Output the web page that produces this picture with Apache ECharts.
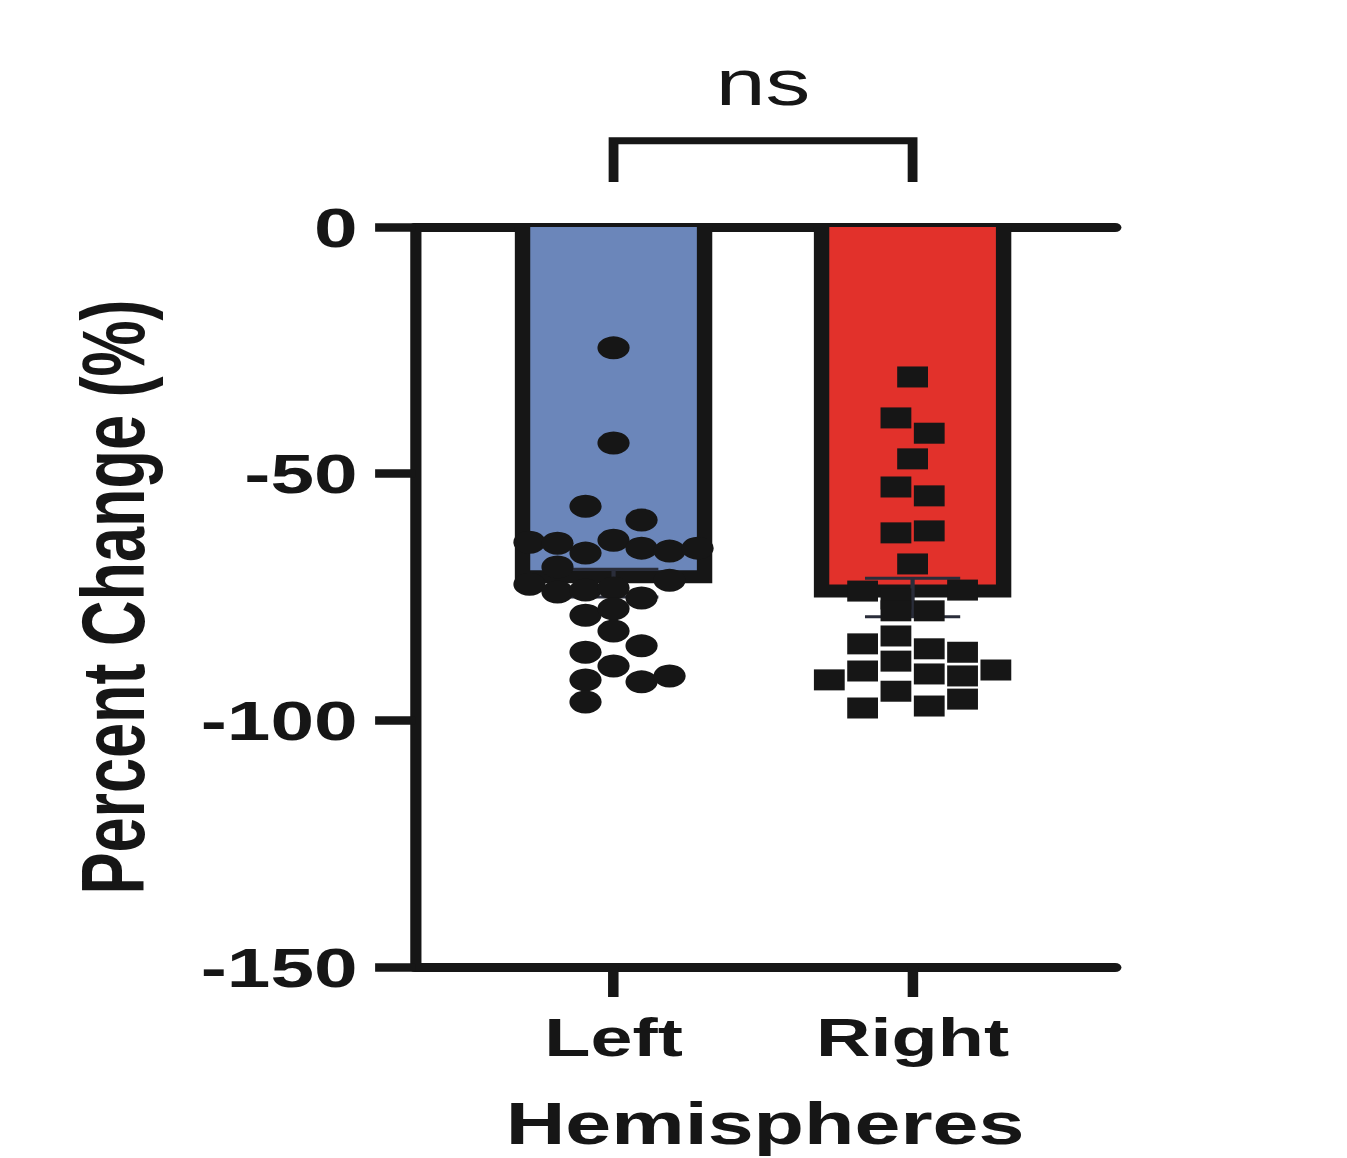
<!DOCTYPE html>
<html>
<head>
<meta charset="utf-8">
<script src="https://cdn.jsdelivr.net/npm/echarts@6/dist/echarts.min.js"></script>
<style>
html,body{margin:0;padding:0;background:#ffffff;overflow:hidden;width:1347px;height:1158px;}
#wrap{width:1347px;height:1158px;overflow:hidden;position:relative;}
#chart{width:962px;height:1158px;transform:scaleX(1.40021);transform-origin:0 0;}
</style>
</head>
<body>
<div id="wrap"><div id="chart"></div></div>
<script>
// ---------------- data ----------------
const categories = ['Left', 'Right'];
const groupMeans = [-72.2, -75.1];
const groupSEM = [2.8, 3.9];
const yTickValues = [0, -50, -100, -150];
const yTickLabels = ['0', '-50', '-100', '-150'];
const xTitle = 'Hemispheres';
const yTitle = 'Percent Change (%)';
const significanceLabel = 'ns';

const leftValues = [-24.5, -43.8, -56.6, -59.4, -63.9, -64.1, -63.5, -66.1, -65.1, -65.7,
  -65.1, -68.9, -72.4, -74.0, -73.6, -73.2, -75.2, -71.6, -78.7, -77.4,
  -81.9, -84.9, -86.2, -89.0, -91.8, -92.2, -91.0, -96.3];
const rightValues = [-30.4, -38.7, -41.8, -47.0, -52.7, -54.5, -62.0, -61.6, -68.3, -73.8,
  -73.6, -75.4, -77.8, -77.8, -84.5, -82.9, -88.0, -85.5, -90.6, -86.2,
  -91.0, -95.7, -89.8, -91.8, -90.0, -97.5, -94.1, -97.1];

// ---------------- layout (jitter lanes, sizes, styles) ----------------
const leftLanes = [0, 0, -1, 1, -3, -2, 0, -1, 1, 2, 3, -2, -3, -2, -1, 0, 1, 2, -1, 0, 0, 1, -1, 0, -1, 1, 2, -1];
const rightLanes = [0, -1, 1, 0, -1, 1, -1, 1, 0, -3, 3, -1, -1, 1, -3, -1, -1, 1, 1, 3, 3, 3, 5, -5, -3, -3, -1, 1];
const LANE_STEP_L = 0.0937;
const LANE_STEP_R = 0.0557;

const INK = '#161616';
const BAR_COLORS = ['#6b86ba', '#e2312b'];
const FONT = '"Liberation Sans", Arial, Helvetica, sans-serif';
const BAR_HALF = 70.5;     // px
const BAR_SIDE = 11;       // px, inner border
const BAR_BOTTOM = 13;     // px
const CAP_HALF = [32, 34];
const BRACKET_LOW = 9.1, BRACKET_HIGH = 17.5, LABEL_Y = 29.2;
const X_MIN = 0.3361, X_MAX = 2.6773;

const chart = echarts.init(document.getElementById('chart'), null, {renderer: 'svg'});

const option = {
  animation: false,
  backgroundColor: '#ffffff',
  grid: {left: 296.4, right: 165.6, top: 227, bottom: 191, containLabel: false, outerBoundsMode: 'none'},
  xAxis: [{
    type: 'value', min: X_MIN, max: X_MAX, position: 'bottom',
    axisLine: {show: true, onZero: false, lineStyle: {color: INK, width: 9}},
    axisTick: {show: true, customValues: [1, 2], length: 30, lineStyle: {color: INK, width: 7.5}},
    axisLabel: {
      show: true, customValues: [1, 2], margin: 43,
      formatter: v => categories[Math.round(v) - 1],
      color: INK, fontFamily: FONT, fontWeight: 'bold', fontSize: 54
    },
    splitLine: {show: false},
    name: xTitle, nameLocation: 'middle', nameGap: 131,
    nameTextStyle: {color: INK, fontFamily: FONT, fontWeight: 'bold', fontSize: 59, lineHeight: 50}
  }, {
    type: 'value', min: X_MIN, max: X_MAX, position: 'top',
    axisLine: {show: true, onZero: false, lineStyle: {color: INK, width: 9}},
    axisTick: {show: false}, axisLabel: {show: false}, splitLine: {show: false}
  }],
  yAxis: {
    type: 'value', min: -150, max: 0, interval: 50,
    axisLine: {show: true, onZero: false, lineStyle: {color: INK, width: 8}},
    axisTick: {show: true, length: 28.5, lineStyle: {color: INK, width: 8.5}},
    axisLabel: {
      margin: 41, color: INK, fontFamily: FONT, fontWeight: 'bold', fontSize: 56,
      formatter: v => yTickLabels[yTickValues.indexOf(v)]
    },
    splitLine: {show: false},
    name: yTitle, nameLocation: 'middle', nameGap: 184, nameRotate: 90,
    nameTextStyle: {color: INK, fontFamily: FONT, fontWeight: 'bold', fontSize: 63}
  },
  series: [
    {
      type: 'custom', name: 'bars', z: 2, xAxisIndex: 0, yAxisIndex: 0,
      data: categories.map((c, i) => [i + 1, groupMeans[i], i]),
      renderItem: (params, api) => {
        const x = api.value(0), m = api.value(1), i = api.value(2);
        const p0 = api.coord([x, 0]), p1 = api.coord([x, m]);
        const h = p1[1] - p0[1];
        return {
          type: 'group', children: [
            {type: 'rect', shape: {x: p0[0] - BAR_HALF, y: p0[1], width: 2 * BAR_HALF, height: h}, style: {fill: INK}},
            {type: 'rect', shape: {x: p0[0] - BAR_HALF + BAR_SIDE, y: p0[1], width: 2 * BAR_HALF - 2 * BAR_SIDE, height: h - BAR_BOTTOM}, style: {fill: BAR_COLORS[i]}}
          ]
        };
      }
    },
    {
      type: 'custom', name: 'sem', z: 3, xAxisIndex: 0, yAxisIndex: 0,
      data: categories.map((c, i) => [i + 1, groupMeans[i], groupSEM[i], i]),
      renderItem: (params, api) => {
        const x = api.value(0), m = api.value(1), s = api.value(2), i = api.value(3);
        const hi = api.coord([x, m + s]), lo = api.coord([x, m - s]);
        const cw = CAP_HALF[i];
        const st = {stroke: '#2a2d3a', lineWidth: 3, fill: null};
        return {
          type: 'group', children: [
            {type: 'line', shape: {x1: hi[0], y1: hi[1], x2: lo[0], y2: lo[1]}, style: st},
            {type: 'line', shape: {x1: hi[0] - cw, y1: hi[1], x2: hi[0] + cw, y2: hi[1]}, style: st},
            {type: 'line', shape: {x1: lo[0] - cw, y1: lo[1], x2: lo[0] + cw, y2: lo[1]}, style: st}
          ]
        };
      }
    },
    {
      type: 'scatter', name: categories[0], z: 4, xAxisIndex: 0, yAxisIndex: 0,
      symbol: 'circle', symbolSize: 23,
      itemStyle: {color: INK, opacity: 1},
      data: leftValues.map((v, k) => [1 + leftLanes[k] * LANE_STEP_L, v])
    },
    {
      type: 'scatter', name: categories[1], z: 4, xAxisIndex: 0, yAxisIndex: 0,
      symbol: 'rect', symbolSize: [22, 21],
      itemStyle: {color: INK, opacity: 1},
      data: rightValues.map((v, k) => [2 + rightLanes[k] * LANE_STEP_R, v])
    },
    {
      type: 'custom', name: 'significance', z: 5, xAxisIndex: 0, yAxisIndex: 0, clip: false,
      data: [[1.5, 0]],
      renderItem: (params, api) => {
        const a = api.coord([1, BRACKET_LOW]), b = api.coord([1, BRACKET_HIGH]);
        const c = api.coord([2, BRACKET_HIGH]), d = api.coord([2, BRACKET_LOW]);
        const t = api.coord([1.5, LABEL_Y]);
        return {
          type: 'group', children: [
            {type: 'polyline', shape: {points: [a, b, c, d]}, style: {stroke: INK, lineWidth: 7, fill: null, lineJoin: 'miter'}},
            {type: 'text', x: t[0], y: t[1], style: {text: significanceLabel, fill: INK, font: 'normal 64px ' + FONT, align: 'center', verticalAlign: 'middle'}}
          ]
        };
      }
    }
  ]
};
chart.setOption(option);
</script>
</body>
</html>
